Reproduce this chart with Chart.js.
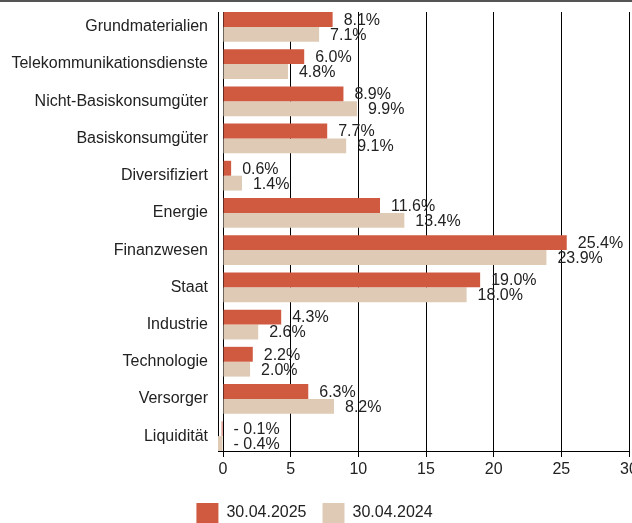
<!DOCTYPE html>
<html>
<head>
<meta charset="utf-8">
<script src="https://cdn.jsdelivr.net/npm/chart.js@4.4.1/dist/chart.umd.min.js"></script>
<style>
  html, body { margin: 0; padding: 0; background: #fff; overflow: hidden; }
  #wrap { position: relative; width: 632px; height: 523px; overflow: hidden; }
  #topline { position: absolute; left: 0; top: 0; width: 632px; height: 2px; background: #555; }
</style>
</head>
<body>
<div id="wrap">
  <canvas id="graph" width="648" height="533"></canvas>
  <div id="topline"></div>
</div>
<script>
// sectors
var sectors = ['Grundmaterialien', 'Telekommunikationsdienste', 'Nicht-Basiskonsumgüter', 'Basiskonsumgüter',
  'Diversifiziert', 'Energie', 'Finanzwesen', 'Staat', 'Industrie', 'Technologie', 'Versorger', 'Liquidität'];
var series2025 = [8.1, 6.0, 8.9, 7.7, 0.6, 11.6, 25.4, 19.0, 4.3, 2.2, 6.3, -0.1];
var series2024 = [7.1, 4.8, 9.9, 9.1, 1.4, 13.4, 23.9, 18.0, 2.6, 2.0, 8.2, -0.4];
var seriesNames = ['30.04.2025', '30.04.2024'];
var xTicks = [0, 5, 10, 15, 20, 25, 30];

var grcol = ['#d05a40', '#dfcbb5'];
var txt = '#222';
var fnt = 'Liberation Sans, Arial, sans-serif';

Chart.defaults.font.family = fnt;
Chart.defaults.font.size = 16;
Chart.defaults.color = txt;

function fmt(v) {
  return (v < 0 ? '- ' + Math.abs(v).toFixed(1) : v.toFixed(1)) + '%';
}

// value labels to the right of each bar
var barLabels = {
  id: 'barLabels',
  afterDatasetsDraw: function(chart) {
    var ctx = chart.ctx;
    ctx.save();
    ctx.font = '16px ' + fnt;
    ctx.fillStyle = txt;
    ctx.textAlign = 'left';
    ctx.textBaseline = 'middle';
    chart.data.datasets.forEach(function(ds, i) {
      var meta = chart.getDatasetMeta(i);
      meta.data.forEach(function(el, j) {
        var x = Math.max(el.x, el.base) + 11;
        ctx.fillText(fmt(ds.data[j]), x, el.y + 1);
      });
    });
    ctx.restore();
  }
};

// tighter end gaps on the category axis than offset:true gives
var catRange = {
  id: 'catRange',
  afterLayout: function(chart) {
    var y = chart.scales.y;
    y._startValue = -0.4;
    y._valueRange = 11.8;
  }
};

var kanvas = document.getElementById('graph');
new Chart(kanvas, {
  type: 'bar',
  data: {
    labels: sectors,
    datasets: [
      { label: seriesNames[0], data: series2025, backgroundColor: grcol[0] },
      { label: seriesNames[1], data: series2024, backgroundColor: grcol[1] }
    ]
  },
  options: {
    indexAxis: 'y',
    responsive: false,
    animation: false,
    categoryPercentage: 0.8,
    barPercentage: 1.0,
    layout: { padding: { top: 12, right: 19, bottom: 0, left: 0 } },
    plugins: {
      legend: {
        position: 'bottom',
        labels: { boxWidth: 22, boxHeight: 20, padding: 16, color: txt, font: { size: 16 } }
      },
      tooltip: { enabled: false }
    },
    scales: {
      x: {
        min: -0.37,
        max: 30,
        afterBuildTicks: function(scale) {
          scale.ticks = xTicks.map(function(v) { return { value: v }; });
        },
        afterFit: function(scale) { scale.height = 36; },
        grid: { color: '#000', lineWidth: 1, drawTicks: true, tickLength: 6 },
        border: { display: true, color: '#000', width: 1 },
        ticks: { color: txt, padding: 3, font: { size: 16 } }
      },
      y: {
        offset: false,
        afterFit: function(scale) {
          scale.width = 218;
          scale.paddingTop = 0;
          scale.paddingBottom = 0;
        },
        grid: { display: false, drawTicks: false },
        border: { display: true, color: '#000', width: 1 },
        ticks: { color: txt, padding: 10, font: { size: 16 } }
      }
    }
  },
  plugins: [barLabels, catRange]
});
</script>
</body>
</html>
